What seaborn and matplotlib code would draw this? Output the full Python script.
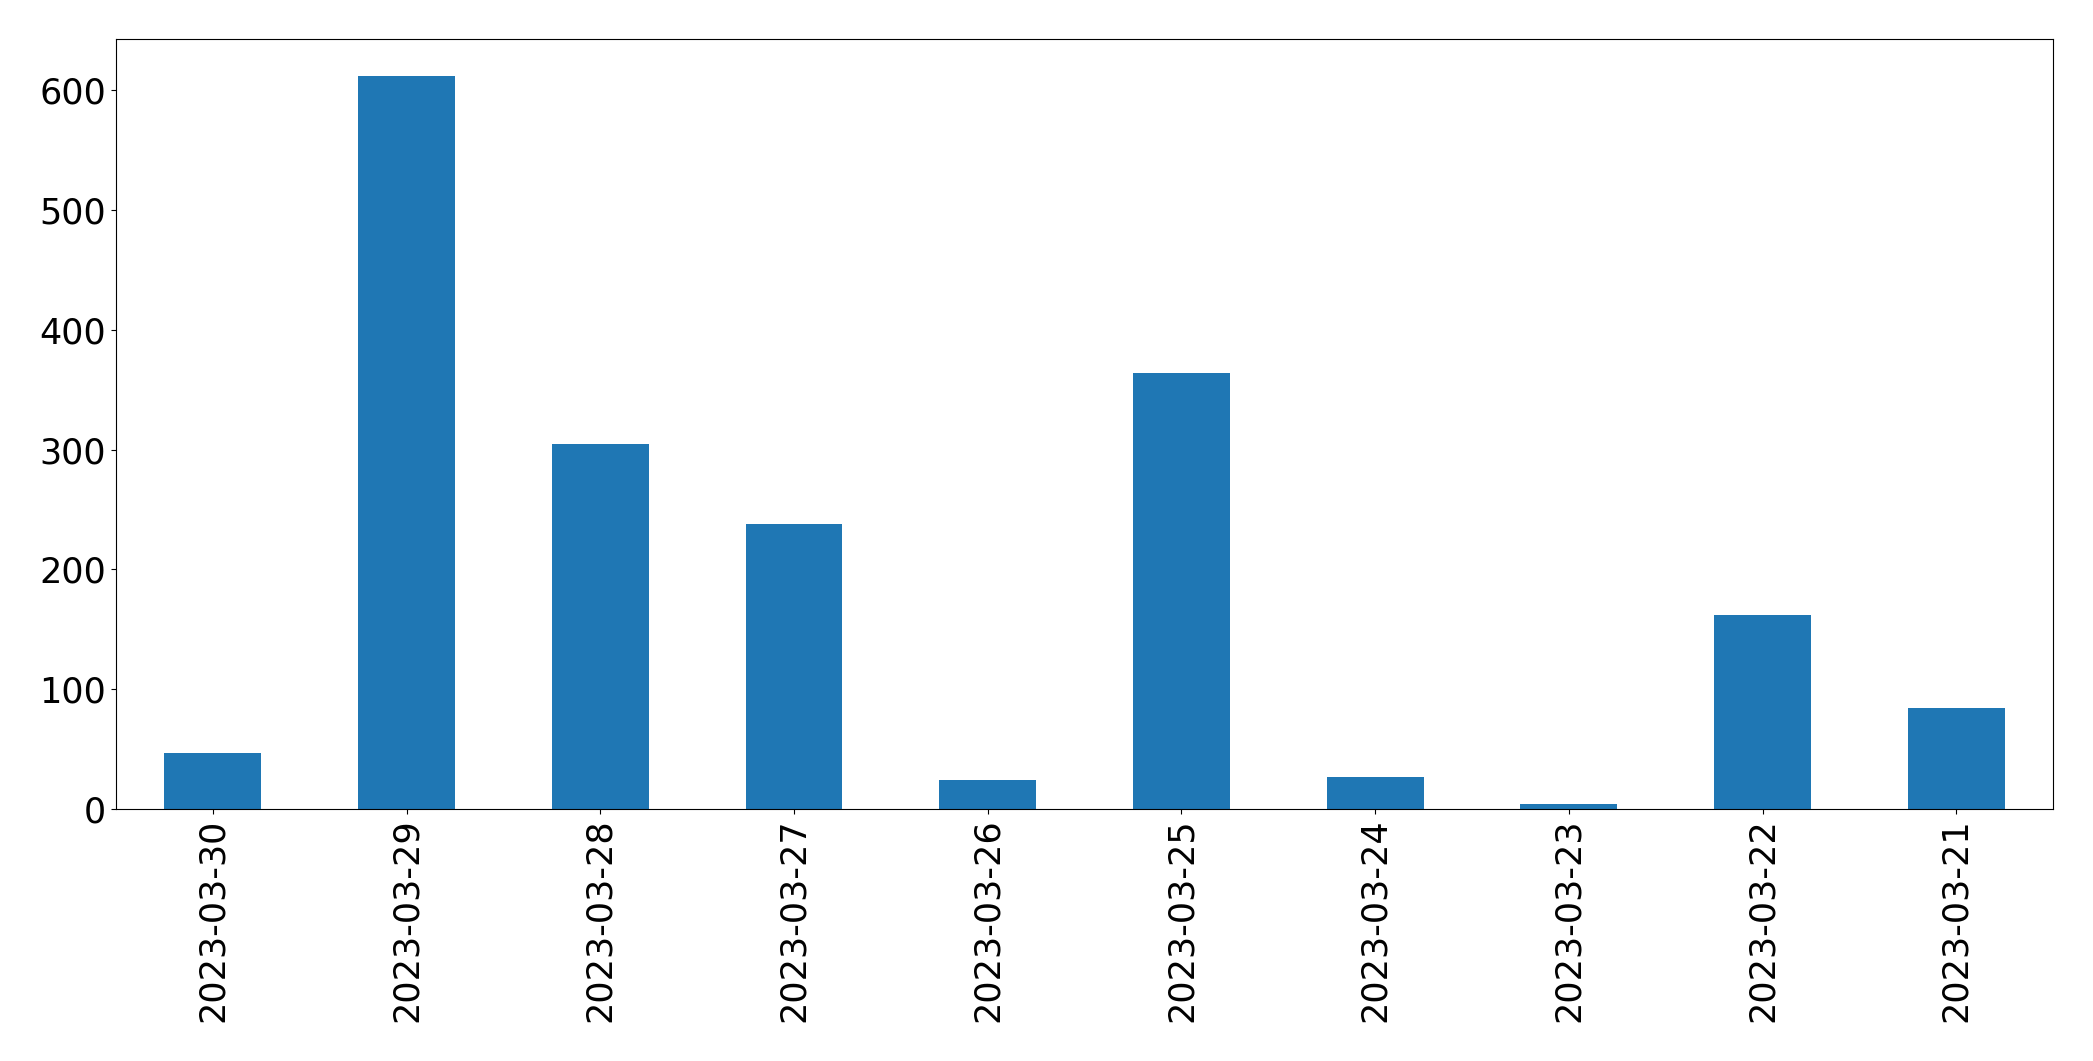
import matplotlib
matplotlib.use("Agg")
import matplotlib.pyplot as plt
import seaborn as sns
import pandas as pd

dates = ["2023-03-30", "2023-03-29", "2023-03-28", "2023-03-27", "2023-03-26",
         "2023-03-25", "2023-03-24", "2023-03-23", "2023-03-22", "2023-03-21"]
counts = [47, 612, 305, 238, 24, 364, 27, 4, 162, 84]

df = pd.DataFrame({"date": dates, "count": counts})

fig, ax = plt.subplots(figsize=(20.93, 10.61), dpi=100)
fig.subplots_adjust(left=0.0554, right=0.981, top=0.963, bottom=0.2375)

sns.barplot(data=df, x="date", y="count", order=dates, color="#1f77b4",
            saturation=1, width=0.5, ax=ax)

ax.set_xlim(-0.5, len(dates) - 0.5)
ax.set_ylim(0, max(counts) * 1.05)
ax.set_xlabel("")
ax.set_ylabel("")
ax.tick_params(axis="both", labelsize=25.2)
ax.tick_params(axis="x", labelrotation=90)
for s in ax.spines.values():
    s.set_visible(True)

fig.savefig("out.png", dpi=100)
